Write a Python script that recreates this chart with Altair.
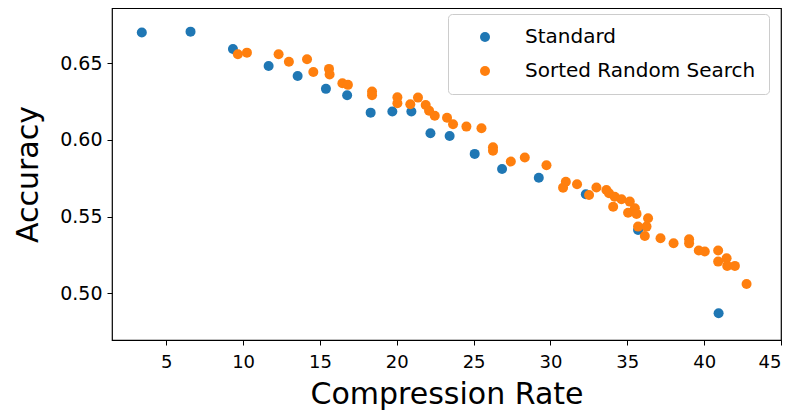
import altair as alt
import pandas as pd

std_x = [3.41, 6.58, 9.34, 11.66, 13.55, 15.39, 16.77, 18.30, 19.71, 20.95,
         22.19, 23.44, 25.07, 26.85, 29.24, 32.30, 35.70, 40.94]
std_y = [0.670, 0.6706, 0.6593, 0.6482, 0.6417, 0.6333, 0.6291, 0.6178, 0.6185, 0.6185,
         0.6044, 0.6026, 0.5909, 0.5811, 0.5754, 0.5646, 0.5413, 0.487]

srs_x = [9.66, 10.25, 12.31, 12.98, 14.16, 14.57, 15.59, 15.63, 16.46, 16.82,
         18.39, 18.39, 20.04, 20.04, 20.88, 21.38, 21.88, 22.10, 22.47, 23.27,
         23.66, 24.53, 25.51, 26.26, 26.26, 27.42, 28.33, 29.74, 30.82, 31.00,
         31.73, 32.51, 32.99, 33.64, 33.81, 34.18, 34.08, 34.62, 35.16, 35.05,
         35.49, 35.60, 36.35, 35.70, 36.25, 36.14, 37.16, 38.01, 39.02, 39.02,
         39.65, 40.04, 40.91, 40.91, 41.46, 41.50, 42.00, 42.76]
srs_y = [0.6559, 0.6569, 0.6559, 0.6510, 0.6526, 0.6443, 0.6463, 0.6426, 0.6370, 0.6359,
         0.6315, 0.6291, 0.6278, 0.6239, 0.6233, 0.6276, 0.6228, 0.6191, 0.6158, 0.6145,
         0.6102, 0.6087, 0.6076, 0.5952, 0.5930, 0.5859, 0.5885, 0.5835, 0.5689, 0.5728,
         0.5711, 0.5641, 0.5690, 0.5674, 0.5653, 0.5630, 0.5565, 0.5613, 0.5598, 0.5526,
         0.5555, 0.5518, 0.5490, 0.5435, 0.5435, 0.5374, 0.5359, 0.5327, 0.5353, 0.5326,
         0.5279, 0.5273, 0.5279, 0.5207, 0.5229, 0.5179, 0.5179, 0.5061]

series_names = ["Standard", "Sorted Random Search"]
series_colors = ["#1f77b4", "#ff7f0e"]
x_ticks = [5, 10, 15, 20, 25, 30, 35, 40, 45]
y_ticks = [0.50, 0.55, 0.60, 0.65]

df = pd.concat([
    pd.DataFrame({"x": std_x, "y": std_y, "series": series_names[0]}),
    pd.DataFrame({"x": srs_x, "y": srs_y, "series": series_names[1]}),
], ignore_index=True)

FONT = "DejaVu Sans"

chart = alt.Chart(df).mark_circle(size=100, opacity=1).encode(
    x=alt.X("x:Q", title="Compression Rate",
            scale=alt.Scale(domain=[1.47, 45], nice=False, zero=False),
            axis=alt.Axis(values=x_ticks, format="d", grid=False, domain=False,
                          tickSize=5, tickColor="#000", labelPadding=8,
                          labelFontSize=18, titleFontSize=30, titlePadding=8,
                          labelColor="#000", titleColor="#000",
                          labelFont=FONT, titleFont=FONT, titleFontWeight="normal")),
    y=alt.Y("y:Q", title="Accuracy",
            scale=alt.Scale(domain=[0.4696, 0.6860], nice=False, zero=False),
            axis=alt.Axis(values=y_ticks, format=".2f", grid=False, domain=False,
                          tickSize=5, tickColor="#000", labelPadding=5,
                          labelFontSize=19, titleFontSize=30, titlePadding=16,
                          labelColor="#000", titleColor="#000",
                          labelFont=FONT, titleFont=FONT, titleFontWeight="normal")),
    color=alt.Color("series:N",
                    scale=alt.Scale(domain=series_names, range=series_colors),
                    legend=alt.Legend(title=None, orient="none", legendX=336, legendY=6,
                                      symbolType="circle", symbolSize=100,
                                      symbolOpacity=1, labelLimit=500,
                                      labelFontSize=20, labelFont=FONT, labelColor="#000",
                                      labelOffset=30, symbolOffset=14,
                                      padding=13, rowPadding=14,
                                      strokeColor="#cccccc", fillColor="white",
                                      cornerRadius=4)),
    order=alt.Order("order:Q"),
).transform_calculate(
    order="datum.series == 'Standard' ? 0 : 1"
).properties(
    width=669, height=332,
    background="white",
    autosize=alt.AutoSizeParams(type="none"),
    padding={"left": 104, "top": 0, "right": 5, "bottom": 70},
).configure_view(
    stroke="#000000", strokeWidth=1.2
)

chart.save("out.html", embed_options={"renderer": "svg", "actions": False})
